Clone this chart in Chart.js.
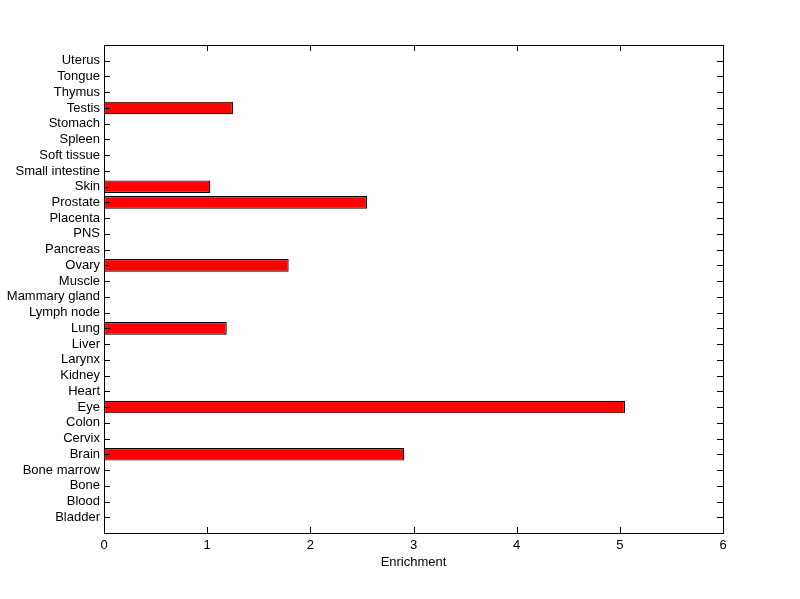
<!DOCTYPE html>
<html>
<head>
<meta charset="utf-8">
<script src="https://cdn.jsdelivr.net/npm/chart.js@4"></script>
<style>
  html, body { margin: 0; padding: 0; background: #fff; }
  #wrap { width: 800px; height: 599px; }
</style>
</head>
<body>
<div id="wrap"><canvas id="grafico" width="800" height="599"></canvas></div>
<script>
// Tejidos, de abajo hacia arriba
const tissues = [
  "Bladder", "Blood", "Bone", "Bone marrow", "Brain", "Cervix", "Colon",
  "Eye", "Heart", "Kidney", "Larynx", "Liver", "Lung", "Lymph node",
  "Mammary gland", "Muscle", "Ovary", "Pancreas", "PNS", "Placenta",
  "Prostate", "Skin", "Small intestine", "Soft tissue", "Spleen",
  "Stomach", "Testis", "Thymus", "Tongue", "Uterus"
];

const enrichment = [
  0, 0, 0, 0, 2.91, 0, 0,
  5.05, 0, 0, 0, 0, 1.19, 0,
  0, 0, 1.79, 0, 0, 0,
  2.55, 1.03, 0, 0, 0,
  0, 1.25, 0, 0, 0
];

const xTicks = [0, 1, 2, 3, 4, 5, 6];

const FONT = "'Liberation Sans', Arial, Helvetica, sans-serif";

// Marco negro y marcas hacia adentro (estilo MATLAB)
const marcoPlugin = {
  id: "marco",
  afterDraw(chart) {
    const { ctx, chartArea: a, scales } = chart;
    const L = 6;
    ctx.save();
    ctx.strokeStyle = "#000";
    ctx.lineWidth = 1;
    ctx.beginPath();
    scales.x.ticks.forEach((t) => {
      const px = Math.round(scales.x.getPixelForValue(t.value)) + 0.5;
      ctx.moveTo(px, a.bottom);
      ctx.lineTo(px, a.bottom - L);
      ctx.moveTo(px, a.top);
      ctx.lineTo(px, a.top + L);
    });
    scales.y.ticks.forEach((t) => {
      if (t.value < 1 || t.value > tissues.length) return;
      const py = Math.round(scales.y.getPixelForValue(t.value)) + 0.5;
      ctx.moveTo(a.left, py);
      ctx.lineTo(a.left + L, py);
      ctx.moveTo(a.right, py);
      ctx.lineTo(a.right - L, py);
    });
    ctx.stroke();
    ctx.strokeRect(
      Math.round(a.left) + 0.5,
      Math.round(a.top) + 0.5,
      Math.round(a.right - a.left),
      Math.round(a.bottom - a.top)
    );
    ctx.restore();
  },
};

new Chart(document.getElementById("grafico"), {
  type: "bar",
  data: {
    datasets: [
      {
        data: tissues.map((t, i) => ({ x: enrichment[i], y: i + 1 })),
        backgroundColor: "#ff0000",
        borderColor: "#000000",
        borderWidth: 1.2,
        borderSkipped: false,
        barPercentage: 0.8,
        categoryPercentage: 1,
      },
    ],
  },
  options: {
    indexAxis: "y",
    responsive: false,
    animation: false,
    layout: { padding: { top: 45, right: 77, bottom: 29, left: 0 } },
    plugins: {
      legend: { display: false },
      tooltip: { enabled: false },
    },
    scales: {
      x: {
        type: "linear",
        min: xTicks[0],
        max: xTicks[xTicks.length - 1],
        afterBuildTicks: (s) => { s.ticks = xTicks.map((v) => ({ value: v })); },
        grid: { display: false, drawTicks: false },
        border: { display: false },
        ticks: {
          color: "#000",
          padding: 5,
          font: { family: FONT, size: 13 },
        },
        title: {
          display: true,
          text: "Enrichment",
          color: "#000",
          padding: 0,
          font: { family: FONT, size: 13 },
        },
        afterFit: (s) => { s.height = 37; },
      },
      y: {
        type: "linear",
        offset: false,
        min: 0,
        max: tissues.length + 1,
        ticks: {
          stepSize: 1,
          autoSkip: false,
          color: "#000",
          padding: 4,
          font: { family: FONT, size: 13 },
          callback: (v) => tissues[v - 1] || "",
        },
        grid: { display: false, drawTicks: false, offset: false },
        border: { display: false },
        afterFit: (s) => { s.width = 104; },
      },
    },
  },
  plugins: [marcoPlugin],
});
</script>
</body>
</html>
